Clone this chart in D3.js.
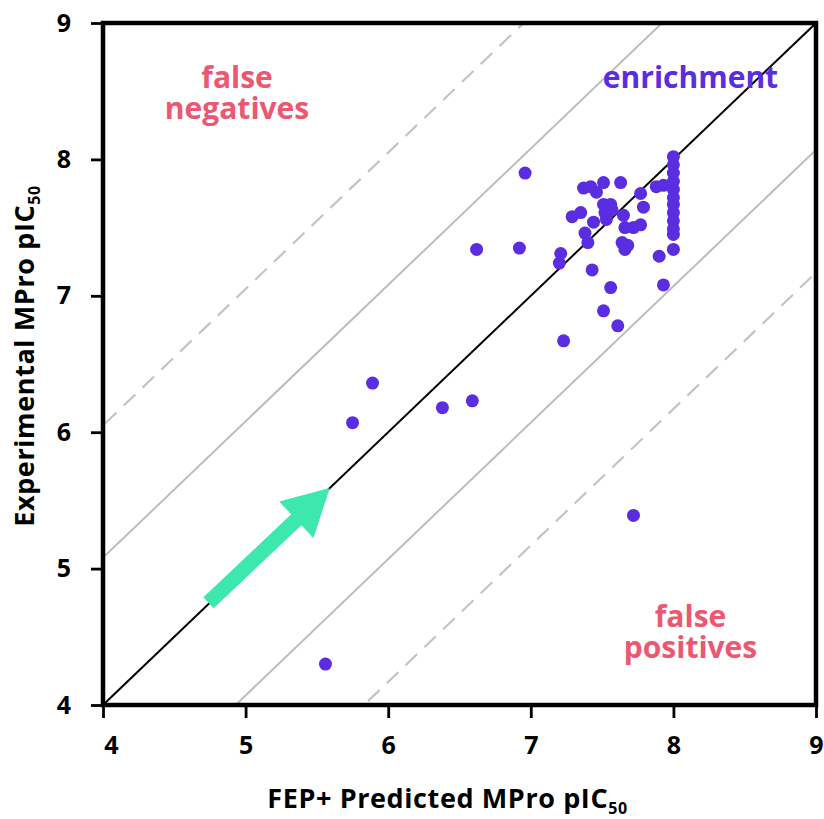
<!DOCTYPE html>
<html><head><meta charset="utf-8">
<script src="https://cdn.jsdelivr.net/npm/d3@7"></script>
<style>body{margin:0;background:#fff}svg{display:block}text{font-family:"Open Sans",Lato,sans-serif;font-weight:700}</style>
</head><body>
<svg id="c" width="824" height="819"></svg>
<script>
// ---- data ----
const xTicks = [4,5,6,7,8,9];
const yTicks = [4,5,6,7,8,9];
const predicted = [6.96,6.62,6.92,7.21,7.20,7.23,5.89,5.75,6.38,6.59,5.56,7.72,7.56,7.93,7.51,7.61,
  8.0,8.0,8.0,8.0,8.0,8.0,8.0,8.0,8.0,8.0,8.0,8.0,
  7.37,7.42,7.46,7.51,7.63,7.77,7.79,7.88,7.93,7.29,7.35,7.51,7.56,7.52,7.57,7.53,7.44,7.65,7.66,7.72,7.77,
  7.38,7.40,7.64,7.68,7.66,7.43,7.90];
const experimental = [7.90,7.34,7.35,7.31,7.24,6.67,6.36,6.07,6.18,6.23,4.30,5.39,7.06,7.08,6.89,6.78,
  8.02,7.96,7.90,7.84,7.78,7.72,7.67,7.61,7.55,7.49,7.45,7.34,
  7.79,7.80,7.76,7.83,7.83,7.75,7.65,7.80,7.81,7.58,7.61,7.67,7.67,7.61,7.63,7.56,7.54,7.59,7.50,7.50,7.52,
  7.46,7.39,7.39,7.37,7.34,7.19,7.29];
const bandOffsets = [1.08, -0.93];      // solid grey lines (y = x + c)
const dashedOffsets = [2.05, -1.83];    // dashed grey lines
const arrowFrom = [4.74, 4.75];
const arrowTo = [5.59, 5.59];
const regionLabels = [
  {lines:["false","negatives"], x:4.94, y:8.52, color:"#ec5872"},
  {lines:["enrichment"], x:8.12, y:8.52, color:"#5a2ee0"},
  {lines:["false","positives"], x:8.12, y:4.57, color:"#ec5872"}
];

// ---- scales ----
const svg = d3.select("#c");
const x = d3.scaleLinear().domain([4,9]).range([103,816]);
const y = d3.scaleLinear().domain([4,9]).range([705,23]);

svg.append("clipPath").attr("id","clip").append("rect")
  .attr("x",x(4)).attr("y",y(9)).attr("width",x(9)-x(4)).attr("height",y(4)-y(9));
const plot = svg.append("g").attr("clip-path","url(#clip)");

const line = c => [[4-10, 4-10+c],[9+10, 9+10+c]];
plot.selectAll(".band").data(bandOffsets).join("line")
  .attr("x1",c=>x(line(c)[0][0])).attr("y1",c=>y(line(c)[0][1]))
  .attr("x2",c=>x(line(c)[1][0])).attr("y2",c=>y(line(c)[1][1]))
  .attr("stroke","#bdbdbd").attr("stroke-width",2);
plot.selectAll(".dash").data(dashedOffsets).join("line")
  .attr("x1",c=>x(line(c)[0][0])).attr("y1",c=>y(line(c)[0][1]))
  .attr("x2",c=>x(line(c)[1][0])).attr("y2",c=>y(line(c)[1][1]))
  .attr("stroke","#c4c4c4").attr("stroke-width",2.2).attr("stroke-dasharray","16,10");
plot.append("line").attr("x1",x(4)).attr("y1",y(4)).attr("x2",x(9)).attr("y2",y(9))
  .attr("stroke","#000").attr("stroke-width",2);

// arrow
(function(){
  const x0=x(arrowFrom[0]), y0=y(arrowFrom[1]), x1=x(arrowTo[0]), y1=y(arrowTo[1]);
  const dx=x1-x0, dy=y1-y0, L=Math.hypot(dx,dy), ux=dx/L, uy=dy/L, nx=-uy, ny=ux;
  const sw=7.5, hw=25, hl=46;
  const bx=x1-ux*hl, by=y1-uy*hl;
  const pts=[[x0+nx*sw,y0+ny*sw],[bx+nx*sw,by+ny*sw],[bx+nx*hw,by+ny*hw],[x1,y1],
             [bx-nx*hw,by-ny*hw],[bx-nx*sw,by-ny*sw],[x0-nx*sw,y0-ny*sw]];
  plot.append("polygon").attr("points",pts.map(p=>p.join(",")).join(" ")).attr("fill","#3de8ae");
})();

// points
plot.selectAll("circle").data(d3.range(predicted.length)).join("circle")
  .attr("cx",i=>x(predicted[i])).attr("cy",i=>y(experimental[i])).attr("r",6.5)
  .attr("fill","#5a2ee0");

// region labels
regionLabels.forEach(l=>{
  const t = svg.append("text").attr("text-anchor","middle").attr("fill",l.color)
    .attr("font-size",30).attr("x",x(l.x)).attr("y",y(l.y));
  l.lines.forEach((s,i)=>t.append("tspan").attr("x",x(l.x)).attr("dy",i?31:0).text(s));
});

// frame
svg.append("rect").attr("x",x(4)).attr("y",y(9)).attr("width",x(9)-x(4)).attr("height",y(4)-y(9))
  .attr("fill","none").attr("stroke","#000").attr("stroke-width",4.5);

// axes
const xa = svg.append("g").attr("transform",`translate(0,${y(4)})`)
  .call(d3.axisBottom(x).tickValues(xTicks).tickFormat(d3.format("d")).tickSize(13).tickPadding(18));
const ya = svg.append("g").attr("transform",`translate(${x(4)},0)`)
  .call(d3.axisLeft(y).tickValues(yTicks).tickFormat(d3.format("d")).tickSize(12).tickPadding(20));
[xa,ya].forEach(a=>{
  a.select(".domain").remove();
  a.selectAll(".tick line").attr("stroke","#000").attr("stroke-width",2.8);
  a.selectAll(".tick text").attr("font-size",25).attr("fill","#000")
    .style("font-family","'Open Sans'").style("font-weight",700);
});
xa.selectAll(".tick text").attr("dx",(d,i)=>i===0?8:0);

// axis titles
const xt = svg.append("text").attr("x",(x(4)+x(9))/2 - 12).attr("y",808).attr("text-anchor","middle")
  .attr("font-size",27).attr("letter-spacing",0.6).attr("fill","#000");
xt.append("tspan").text("FEP+ Predicted MPro pIC");
xt.append("tspan").attr("font-size",16).attr("dy",6).text("50");
const yt = svg.append("text").attr("transform",`translate(34,${(y(4)+y(9))/2 - 8}) rotate(-90)`)
  .attr("text-anchor","middle").attr("font-size",27).attr("letter-spacing",0.6).attr("fill","#000");
yt.append("tspan").text("Experimental MPro pIC");
yt.append("tspan").attr("font-size",16).attr("dy",6).text("50");
</script>
</body></html>
